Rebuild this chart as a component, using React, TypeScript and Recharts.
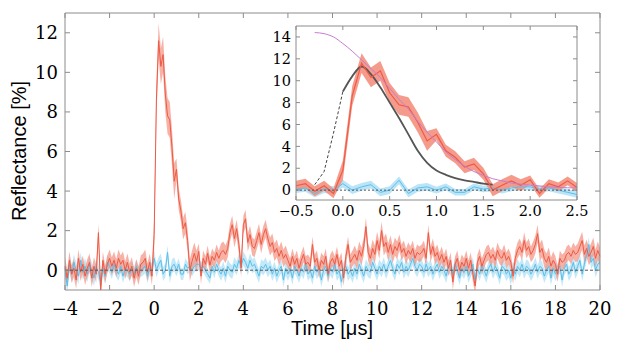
import { ComposedChart, Area, Line, XAxis, YAxis, ReferenceLine } from 'recharts'

const T_START = -4
const T_STEP = 0.1

// measured reflectance [%], one row = 1 µs (10 samples)
const redMean = [
  0.2, -0.4, 0.5, -0.2, 0.1, -0.5, 0.6, -0.1, 0.3, -0.3,
  0.1, 0.4, -0.4, 0.2, -0.2, 1.9, -1.0, 0.5, -0.2, 0.3,
  0.6, 0.2, 0.5, 0.1, 0.6, 0.3, 0.5, 0.0, 0.4, -0.1,
  0.2, -0.4, 0.1, -0.3, 0.3, 0.4, 0.6, -0.1, 0.4, -0.3,
  1.8, 8.6, 11.6, 10.3, 10.9, 8.9, 7.8, 7.6, 6.2, 4.5,
  5.1, 3.6, 3.0, 2.1, 2.4, 1.5, 0.0, 0.45, 0.85, 0.45,
  0.95, -0.3, 0.6, 0.3, 0.85, 0.25, 0.7, 0.5, 0.9, 0.6,
  0.9, 1.0, 0.8, 1.1, 1.9, 2.3, 1.6, 2.1, 1.3, 0.1,
  2.3, 2.6, 1.4, 1.8, 1.2, 1.1, 1.5, 1.9, 1.3, 1.8,
  2.1, 1.6, 1.2, 1.4, 0.9, 1.1, 0.7, 1.0, 0.6, 0.8,
  0.5, 0.2, 0.7, 0.3, 0.6, 0.1, 0.5, 0.8, 0.3, 0.4,
  0.2, 1.3, 0.4, 0.6, 0.0, 0.5, 0.3, 0.7, -0.2, 0.4,
  0.6, 0.3, 0.8, 0.2, 0.5, -0.4, 0.7, 1.3, 0.4, 0.6,
  0.8, 0.5, 1.0, 0.7, 1.2, 2.2, 0.9, 0.6, 1.1, 0.8,
  1.5, 1.0, 2.0, 1.2, 1.4, 0.9, 1.3, 0.8, 1.2, 1.0,
  1.4, 0.9, 1.1, 0.7, 1.0, 0.8, 1.1, 0.6, 0.9, 0.8,
  0.9, 1.1, 0.6, 1.9, 0.8, 1.2, 0.7, 0.9, 0.5, 0.8,
  0.4, 0.7, 0.1, 0.5, -0.6, 0.3, 0.6, 0.0, 0.4, 0.2,
  0.6, 0.1, 0.5, -0.2, -0.8, 0.4, 0.7, 0.2, 0.5, 0.8,
  0.9, 0.6, 0.8, 0.5, 1.0, 0.7, 0.6, 0.9, 0.5, 0.7,
  0.4, -0.3, 0.6, 1.0, 1.2, 0.9, 1.5, 1.0, 1.2, 0.8,
  1.0, 1.3, 1.85, 0.9, 1.1, 0.6, 0.4, 0.7, 0.2, 0.5,
  0.3, -0.2, 0.6, 0.4, 0.5, 0.8, 0.9, 0.7, 1.0, 0.8,
  0.9, 1.2, 1.5, 0.8, 1.1, 0.7, 0.9, 1.2, 0.6, 1.0,
  0.7,
]

const blueMean = [
  0.1, -0.8, 0.3, -0.2, 0.4, 0.0, -0.3, 0.5, -0.1, 0.2,
  -0.2, 0.3, 0.0, -0.4, 0.2, -0.1, -0.6, 0.1, -0.3, 0.4,
  0.2, -0.1, 0.3, 0.0, -0.2, 0.2, -0.3, 0.1, 0.0, -0.2,
  0.1, -0.2, 0.2, -0.1, 0.0, 0.1, 0.2, -0.3, 0.1, 0.0,
  0.6, 0.0, 0.3, 0.5, -0.2, 0.0, 0.9, -0.3, 0.2, 0.3,
  0.0, 0.3, -0.2, -0.2, 0.3, 0.1, 0.2, 0.0, 0.2, 0.3,
  0.3, 0.1, 0.2, 0.0, -0.2, -0.4, 0.2, -0.1, 0.3, 0.0,
  -0.2, 0.1, -0.3, 0.2, 0.0, -0.1, 0.3, 0.1, 0.5, 0.2,
  0.6, 0.4, 0.1, 0.5, 0.2, 0.3, 0.0, -0.3, 0.2, 0.1,
  0.3, 0.0, 0.2, -0.2, 0.1, -0.3, 0.0, 0.2, -0.5, 0.1,
  -0.2, 0.1, -0.4, 0.2, 0.0, -0.3, 0.1, -0.1, 0.3, -0.2,
  0.0, -0.4, 0.2, -0.1, 0.1, -0.5, 0.0, 0.2, -0.3, 0.1,
  -0.1, 0.3, -0.2, 0.0, -0.6, 0.1, 0.2, -0.2, 0.0, -0.3,
  0.1, -0.2, 0.3, 0.0, -0.3, 0.2, 0.0, -0.1, 0.4, 0.1,
  -0.2, 0.2, 0.0, 0.3, -0.1, 0.2, 0.5, 0.1, -0.2, 0.3,
  0.1, 0.4, -0.1, 0.2, 0.0, 0.3, 0.6, 0.2, 0.0, 0.3,
  0.2, -0.1, 0.3, 0.0, 0.2, -0.2, 0.1, 0.3, -0.1, 0.2,
  0.0, -0.3, 0.2, 0.1, -0.2, 0.3, 0.0, -0.4, 0.1, -0.1,
  0.2, -0.3, 0.0, 0.3, -0.5, 0.1, -0.2, 0.2, 0.0, -0.3,
  0.1, 0.3, -0.1, 0.2, 0.0, -0.4, 0.2, 0.1, -0.2, 0.0,
  -0.4, 0.1, -0.2, 0.2, 0.0, 0.3, -0.1, 0.2, 0.1, -0.2,
  0.0, 0.3, -0.1, 0.2, 0.1, -0.3, 0.0, 0.2, -0.4, 0.1,
  -0.2, 0.0, 0.2, -0.5, 0.1, 0.3, -0.2, 0.0, 0.4, -0.1,
  0.2, 0.5, -0.2, 0.3, 0.8, 1.3, 0.4, 0.6, 0.0, 0.3,
  0.4,
]

// half width of the shaded bands, one value per µs from -4 to 20
const redErr = [0.45, 0.45, 0.45, 0.45, 0.9, 0.55, 0.4, 0.45, 0.45, 0.45, 0.4, 0.4, 0.4, 0.45, 0.45, 0.4, 0.4, 0.4, 0.4, 0.4, 0.4, 0.45, 0.4, 0.45, 0.45]
const blueErr = [0.4, 0.4, 0.35, 0.35, 0.35, 0.3, 0.3, 0.35, 0.35, 0.35, 0.35, 0.35, 0.35, 0.35, 0.35, 0.35, 0.35, 0.35, 0.35, 0.35, 0.35, 0.35, 0.35, 0.35, 0.4]

// inset curves on the -0.5 .. 2.5 µs grid
const simDashed = [null, null, 0.5, 1.7, 5.2, 9.0, null, null, null, null, null, null, null, null, null, null, null, null, null, null, null, null, null, null, null, null, null, null, null, null, null]
const simSolid = [null, null, null, null, null, 9.0, 10.4, 11.3, 10.6, 9.4, 8.0, 6.6, 5.1, 3.6, 2.5, 1.8, 1.4, 1.1, 0.9, 0.75, 0.6, 0.5, null, null, null, null, null, null, null, null, null]
const model = [null, null, 14.4, 14.3, 14.0, 13.4, 12.7, 11.9, 11.1, 10.3, 9.3, 8.3, 7.4, 6.3, 5.3, 4.4, 3.5, 2.8, 2.2, 1.7, 1.35, 1.05, 0.85, 0.65, 0.55, 0.45, 0.38, 0.3, 0.25, 0.22, 0.2]

const X_TICKS = [-4, -2, 0, 2, 4, 6, 8, 10, 12, 14, 16, 18, 20]
const Y_TICKS = [0, 2, 4, 6, 8, 10, 12]
const INSET_X_TICKS = [-0.5, 0, 0.5, 1, 1.5, 2, 2.5]
const INSET_Y_TICKS = [0, 2, 4, 6, 8, 10, 12, 14]

const RED = '#ee5a45'
const RED_BAND = '#f4907f'
const BLUE = '#5bbfea'
const BLUE_BAND = '#a3dbf4'
const FRAME = '#8c8c8c'
const SERIF = 'DejaVu Serif'
const SANS = 'Liberation Sans'

const mainRows = redMean.map((r, i) => {
  const t = Math.round((T_START + i * T_STEP) * 10) / 10
  const seg = Math.floor(t - T_START + 1e-6)
  const b = blueMean[i]
  return {
    t,
    red: r,
    redBand: [r - redErr[seg], r + redErr[seg]],
    blue: b,
    blueBand: [b - blueErr[seg], b + blueErr[seg]],
  }
})

const insetStart = mainRows.findIndex((d) => d.t === -0.5)
const insetRows = mainRows.slice(insetStart, insetStart + 31).map((d, k) => ({
  ...d,
  simDashed: simDashed[k],
  simSolid: simSolid[k],
  model: model[k],
}))

const minus = (s: string) => s.replace('-', '\u2212')

function xTick(size: number, digits: number) {
  return (p: any) => (
    <text x={p.x} y={p.y} dy="0.71em" textAnchor="middle" fill="#000" fontFamily={SERIF} fontSize={size}>
      {minus(digits > 0 ? Number(p.payload.value).toFixed(digits) : String(p.payload.value))}
    </text>
  )
}

function yTick(size: number) {
  return (p: any) => (
    <text x={p.x} y={p.y} dy="0.36em" textAnchor="end" fill="#000" fontFamily={SERIF} fontSize={size}>
      {minus(String(p.payload.value))}
    </text>
  )
}

const NoTick = () => <g />

export default function App() {
  return (
    <div style={{ position: 'absolute', left: 0, top: 0, width: 623, height: 349, background: '#fff' }}>
      <ComposedChart width={623} height={349} data={mainRows} margin={{ top: 3, right: 13, bottom: 3, left: 0 }}>
        <XAxis dataKey="t" type="number" domain={[-4, 20]} ticks={X_TICKS} height={56} tickSize={-5} tickMargin={17}
          stroke={FRAME} tick={xTick(18, 0)} interval={0} />
        <XAxis xAxisId="top" orientation="top" dataKey="t" type="number" domain={[-4, 20]} ticks={X_TICKS} height={10}
          tickSize={-5} stroke={FRAME} tick={NoTick} interval={0} />
        <YAxis type="number" domain={[-1, 13]} ticks={Y_TICKS} width={65} tickSize={-5} tickMargin={12} allowDataOverflow
          stroke={FRAME} tick={yTick(18)} interval={0} />
        <YAxis yAxisId="right" orientation="right" type="number" domain={[-1, 13]} ticks={Y_TICKS} width={10}
          tickSize={-5} stroke={FRAME} tick={NoTick} interval={0} allowDataOverflow />
        <Area dataKey="blueBand" stroke="none" fill={BLUE_BAND} fillOpacity={0.65} isAnimationActive={false} activeDot={false} />
        <Area dataKey="redBand" stroke="none" fill={RED_BAND} fillOpacity={0.7} isAnimationActive={false} activeDot={false} />
        <Line dataKey="blue" stroke={BLUE} strokeWidth={1} dot={false} isAnimationActive={false} />
        <Line dataKey="red" stroke={RED} strokeWidth={1} dot={false} isAnimationActive={false} />
        <ReferenceLine y={0} stroke="#555" strokeDasharray="3 2" strokeWidth={1} />
      </ComposedChart>

      <div style={{ position: 'absolute', left: 250, top: 16 }}>
        <ComposedChart width={340} height={210} data={insetRows} margin={{ top: 4, right: 7, bottom: 4, left: 0 }}>
          <XAxis dataKey="t" type="number" domain={[-0.5, 2.5]} ticks={INSET_X_TICKS} height={22} tickSize={-4} tickMargin={10}
            stroke={FRAME} tick={xTick(14.5, 1)} interval={0} />
          <XAxis xAxisId="top" orientation="top" dataKey="t" type="number" domain={[-0.5, 2.5]} ticks={INSET_X_TICKS} height={6}
            tickSize={-4} stroke={FRAME} tick={NoTick} interval={0} />
          <YAxis type="number" domain={[-0.9, 15]} ticks={INSET_Y_TICKS} width={46} tickSize={-4} tickMargin={9} allowDataOverflow
            stroke={FRAME} tick={yTick(14.5)} interval={0} />
          <YAxis yAxisId="right" orientation="right" type="number" domain={[-0.9, 15]} ticks={INSET_Y_TICKS} width={6}
            tickSize={-4} stroke={FRAME} tick={NoTick} interval={0} allowDataOverflow />
          <Area dataKey="blueBand" stroke="none" fill={BLUE_BAND} fillOpacity={0.75} isAnimationActive={false} activeDot={false} />
          <Line dataKey="blue" stroke={BLUE} strokeWidth={1} dot={false} isAnimationActive={false} />
          <Line dataKey="simDashed" stroke="#444" strokeWidth={1} strokeDasharray="3 2" dot={false} isAnimationActive={false} />
          <Line dataKey="simSolid" type="monotone" stroke="#555" strokeWidth={1.8} dot={false} isAnimationActive={false} />
          <Area dataKey="redBand" stroke="none" fill={RED_BAND} fillOpacity={0.9} isAnimationActive={false} activeDot={false} />
          <Line dataKey="red" stroke={RED} strokeWidth={1.2} dot={false} isAnimationActive={false} />
          <Line dataKey="model" type="monotone" stroke="#c77dcf" strokeWidth={1} dot={false} isAnimationActive={false} />
          <ReferenceLine y={0} stroke="#555" strokeDasharray="2 2" strokeWidth={1} />
        </ComposedChart>
      </div>

      <svg width={623} height={349} style={{ position: 'absolute', left: 0, top: 0, pointerEvents: 'none' }}>
        <text x={26} y={151} textAnchor="middle" fill="#000" transform="rotate(-90 26 151)" fontFamily={SANS} fontSize={20}>
          Reflectance [%]
        </text>
        <text x={332} y={335} textAnchor="middle" fill="#000" fontFamily={SANS} fontSize={20}>
          Time [μs]
        </text>
      </svg>
    </div>
  )
}
